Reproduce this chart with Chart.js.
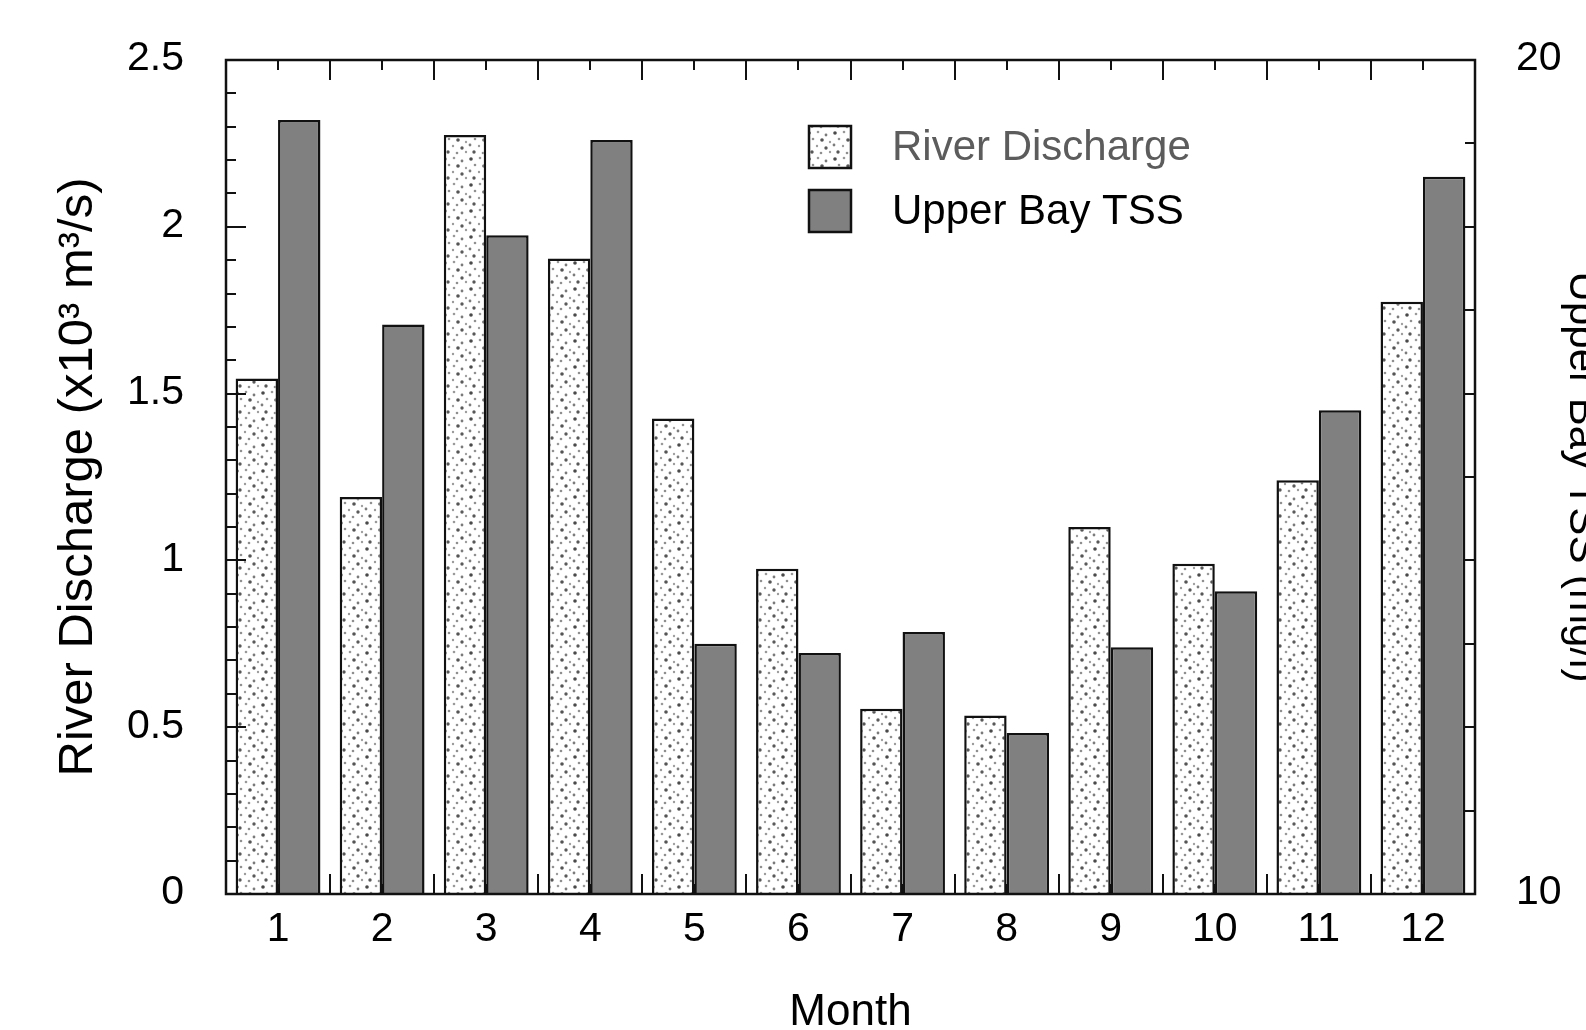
<!DOCTYPE html>
<html>
<head>
<meta charset="utf-8">
<script src="https://cdn.jsdelivr.net/npm/chart.js@4.4.1/dist/chart.umd.min.js"></script>
<style>
  html, body { margin: 0; padding: 0; background: #fff; overflow: hidden; }
  #wrap { width: 1620px; height: 1030px; }
</style>
</head>
<body>
<div id="wrap"><canvas id="c" width="1620" height="1030"></canvas></div>
<script>
// ---- data ----
const months = ['1','2','3','4','5','6','7','8','9','10','11','12'];
const riverDischarge = [1.545, 1.19, 2.275, 1.905, 1.425, 0.975, 0.555, 0.535, 1.10, 0.99, 1.24, 1.775];
const upperBayTSS = [19.28, 16.83, 17.90, 19.04, 13.00, 12.89, 13.14, 11.93, 12.96, 13.63, 15.80, 18.60];
const leftTickLabels = ['0', '0.5', '1', '1.5', '2', '2.5'];
const rightTickLabels = ['10', '20'];
const seriesNames = ['River Discharge', 'Upper Bay TSS'];
const xTitle = 'Month';
const leftTitle = 'River Discharge (x10\u00B3 m\u00B3/s)';
const rightTitle = 'Upper Bay TSS (mg/l)';

const FONT = '"Liberation Sans", Arial, Helvetica, sans-serif';
const INK = '#111111';

const canvas = document.getElementById('c');
const ctx0 = canvas.getContext('2d');

function makeDots() {
  const s = 26;
  const t = document.createElement('canvas');
  t.width = s; t.height = s;
  const g = t.getContext('2d');
  g.fillStyle = '#ffffff';
  g.fillRect(0, 0, s, s);
  const dots = [
    [3, 3, 1.8, '#4a4a4a'], [12, 2, 1.3, '#999999'], [20, 5, 1.4, '#7a7a7a'],
    [7, 9, 1.3, '#909090'], [16, 10, 1.8, '#555555'], [24, 12, 1.2, '#a0a0a0'],
    [2, 15, 1.4, '#7c7c7c'], [11, 16, 1.2, '#9a9a9a'], [20, 18, 1.7, '#5a5a5a'],
    [6, 22, 1.7, '#585858'], [15, 23, 1.3, '#8e8e8e'], [24, 22, 1.2, '#9c9c9c']
  ];
  dots.forEach(([x, y, r, c]) => {
    g.fillStyle = c;
    g.beginPath(); g.arc(x, y, r, 0, Math.PI * 2); g.fill();
  });
  return ctx0.createPattern(t, 'repeat');
}
const dotPattern = makeDots();

function labelFor(list, v) {
  const hit = list.find(l => Math.abs(parseFloat(l) - v) < 1e-6);
  return hit === undefined ? '' : hit;
}
function isMajor(v) { return labelFor(leftTickLabels, v) !== ''; }

// ---- frame & inward ticks ----
const frameTicks = {
  id: 'frameTicks',
  afterDatasetsDraw(chart, args, o) {
    const {ctx, chartArea: ca, scales} = chart;
    ctx.save();
    ctx.strokeStyle = o.color;
    ctx.lineWidth = o.width;
    ctx.beginPath();
    scales.y.ticks.forEach(t => {
      const p = Math.round(scales.y.getPixelForValue(t.value));
      const len = isMajor(t.value) ? o.major : o.minor;
      ctx.moveTo(ca.left, p); ctx.lineTo(ca.left + len, p);
    });
    scales.y2.ticks.forEach(t => {
      const p = Math.round(scales.y2.getPixelForValue(t.value));
      ctx.moveTo(ca.right, p); ctx.lineTo(ca.right - o.minor, p);
    });
    const n = chart.data.labels.length;
    for (let i = 0; i < n; i++) {
      const p = Math.round(scales.x.getPixelForValue(i));
      ctx.moveTo(p, ca.top); ctx.lineTo(p, ca.top + o.minor);
      ctx.moveTo(p, ca.bottom); ctx.lineTo(p, ca.bottom - o.minor);
    }
    for (let i = 0; i < n - 1; i++) {
      const p = Math.round(scales.x.getPixelForValue(i + 0.5));
      ctx.moveTo(p, ca.top); ctx.lineTo(p, ca.top + o.major);
      ctx.moveTo(p, ca.bottom); ctx.lineTo(p, ca.bottom - o.major);
    }
    ctx.stroke();
    ctx.lineWidth = o.frameWidth;
    ctx.strokeRect(ca.left, ca.top, ca.right - ca.left, ca.bottom - ca.top);
    ctx.restore();
  }
};

// ---- legend inside plot ----
const boxLegend = {
  id: 'boxLegend',
  afterDraw(chart, args, o) {
    const {ctx, chartArea: ca} = chart;
    ctx.save();
    chart.data.datasets.forEach((ds, i) => {
      const x = ca.left + o.x;
      const y = ca.top + o.y + i * o.rowGap;
      ctx.fillStyle = ds.backgroundColor;
      ctx.fillRect(x, y, o.box, o.box);
      ctx.strokeStyle = INK;
      ctx.lineWidth = 2.5;
      ctx.strokeRect(x, y, o.box, o.box);
      ctx.fillStyle = o.colors[i];
      ctx.font = o.font;
      ctx.textAlign = 'left';
      ctx.textBaseline = 'middle';
      ctx.fillText(ds.label, x + o.box + o.gap, y + o.box / 2 + 1);
    });
    ctx.restore();
  }
};

new Chart(canvas, {
  type: 'bar',
  data: {
    labels: months,
    datasets: [
      {
        label: seriesNames[0], data: riverDischarge, yAxisID: 'y',
        backgroundColor: dotPattern, borderColor: INK, borderWidth: 2.5,
        categoryPercentage: 0.815, barPercentage: 1.0
      },
      {
        label: seriesNames[1], data: upperBayTSS, yAxisID: 'y2',
        backgroundColor: '#808080', borderColor: INK, borderWidth: 2.5,
        categoryPercentage: 0.815, barPercentage: 1.0
      }
    ]
  },
  options: {
    responsive: false,
    animation: false,
    devicePixelRatio: 1,
    layout: { padding: { top: 60, left: 0, right: 0, bottom: 0 } },
    plugins: {
      legend: { display: false },
      tooltip: { enabled: false },
      frameTicks: { color: INK, width: 2, frameWidth: 2.5, major: 20, minor: 10 },
      boxLegend: {
        x: 583, y: 66, rowGap: 64, box: 42, gap: 41,
        font: '42px ' + FONT, colors: ['#5c5c5c', '#000000']
      }
    },
    scales: {
      x: {
        type: 'category',
        offset: true,
        grid: { display: false },
        border: { display: false },
        ticks: { color: '#000', font: { family: FONT, size: 41 }, padding: 3, maxRotation: 0, autoSkip: false },
        title: { display: true, text: xTitle, color: '#000', font: { family: FONT, size: 44, lineHeight: 0.78 }, padding: { top: 0, bottom: 0 } },
        afterFit(s) { s.height = 136; }
      },
      y: {
        type: 'linear', position: 'left', min: 0, max: 2.5,
        grid: { display: false },
        border: { display: false },
        ticks: {
          stepSize: 0.1, autoSkip: false, color: '#000', padding: 34, labelOffset: -1,
          font: { family: FONT, size: 41 },
          callback: v => labelFor(leftTickLabels, v)
        },
        title: { display: true, text: leftTitle, color: '#000', font: { family: FONT, size: 49, lineHeight: 1 }, padding: { top: 54, bottom: 0 } },
        afterFit(s) { s.width = 226; }
      },
      y2: {
        type: 'linear', position: 'right', min: 10, max: 20,
        grid: { display: false },
        border: { display: false },
        ticks: {
          stepSize: 1, autoSkip: false, color: '#000', padding: 33, labelOffset: -1,
          font: { family: FONT, size: 41 },
          callback: v => labelFor(rightTickLabels, v)
        },
        title: { display: true, text: rightTitle, color: '#000', font: { family: FONT, size: 42, lineHeight: 1 }, padding: { top: 17, bottom: 0 } },
        afterFit(s) { s.width = 145; }
      }
    }
  },
  plugins: [frameTicks, boxLegend]
});
</script>
</body>
</html>
